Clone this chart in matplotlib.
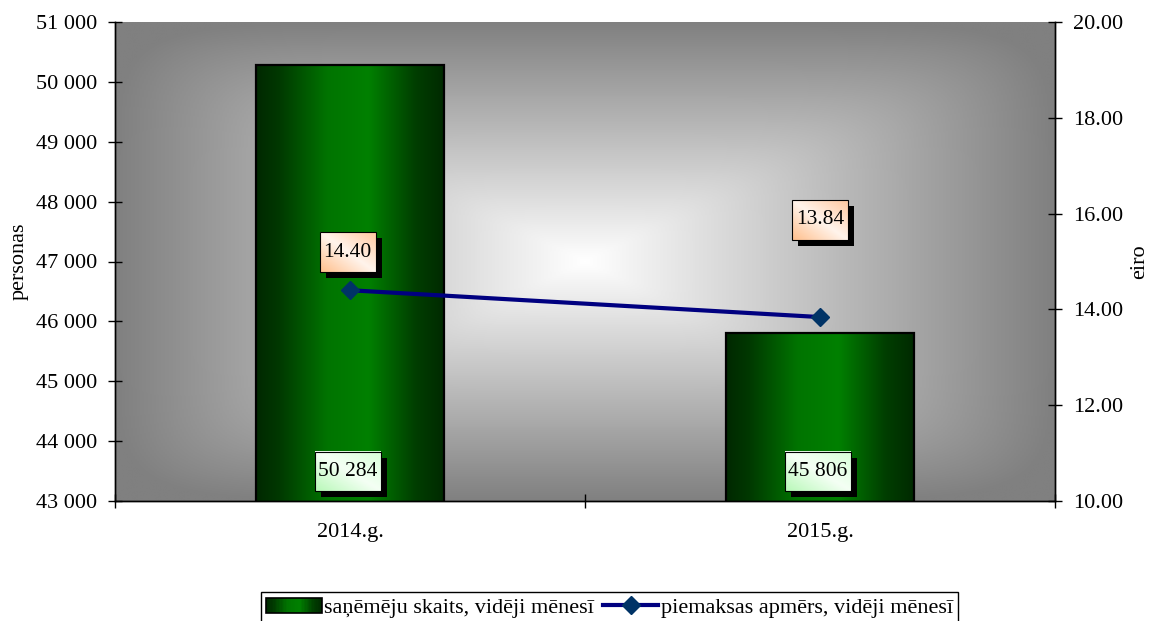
import matplotlib
matplotlib.use('Agg')
import matplotlib.pyplot as plt
import numpy as np
from matplotlib.colors import LinearSegmentedColormap
from matplotlib.patches import Rectangle
from matplotlib.lines import Line2D
from matplotlib.legend_handler import HandlerBase
from matplotlib.ticker import FuncFormatter

# ---- data ----
years = ['2014.g.', '2015.g.']
recipients = [50284, 45806]
payment = [14.40, 13.84]
left_ticks = [43000, 44000, 45000, 46000, 47000, 48000, 49000, 50000, 51000]
right_ticks = [10, 12, 14, 16, 18, 20]
left_label = 'personas'
right_label = 'eiro'
bar_legend = 'saņēmēju skaits, vidēji mēnesī'
line_legend = 'piemaksas apmērs, vidēji mēnesī'

# ---- style ----
plt.rcParams['font.family'] = ['Liberation Serif', 'DejaVu Serif']
plt.rcParams['font.size'] = 16

W, H, DPI = 1153, 621, 100
fig = plt.figure(figsize=(W / DPI, H / DPI), dpi=DPI)
ax = fig.add_axes([115 / W, 1 - 501 / H, 940 / W, 479 / H])
ax2 = ax.twinx()

x = np.arange(len(years))
xlim = (-0.5, len(years) - 0.5)
ax.set_xlim(*xlim)
ax.set_ylim(left_ticks[0], left_ticks[-1])
ax2.set_ylim(right_ticks[0], right_ticks[-1])

# background rectangular gradient (white centre -> grey edges)
n = 500
g = np.linspace(-1, 1, n)
GX, GY = np.meshgrid(g, g)
p = 8
v = (np.abs(GX) ** p + np.abs(GY) ** p) ** (1 / p)
v = np.clip(v, 0, 1)
bg_cmap = LinearSegmentedColormap.from_list('bg', ['#ffffff', '#808080'])
ax.imshow(v, cmap=bg_cmap, extent=[0, 1, 0, 1], transform=ax.transAxes,
          aspect='auto', zorder=0, interpolation='bilinear', vmin=0, vmax=1)
ax.patch.set_visible(False)

# bars with horizontal green gradient
bar_cmap = LinearSegmentedColormap.from_list(
    'bar', [(0, '#002800'), (0.12, '#003800'), (0.38, '#007400'),
            (0.6, '#008000'), (0.85, '#003e00'), (1, '#002a00')])
width = 0.4
grad = np.linspace(0, 1, 256).reshape(1, -1)
bars = ax.bar(x, recipients, width, facecolor='none', edgecolor='black',
              linewidth=1.6, zorder=3)
for xi, val in zip(x, recipients):
    ax.imshow(grad, cmap=bar_cmap, extent=[xi - width / 2, xi + width / 2, left_ticks[0], val],
              aspect='auto', zorder=2, interpolation='bilinear')

# line on secondary axis
ax2.plot(x, payment, color='#000080', linewidth=3, marker='D', markersize=9,
         markerfacecolor='#003366', markeredgecolor='#003366', zorder=3)

# axes formatting
ax.set_yticks(left_ticks)
ax.yaxis.set_major_formatter(FuncFormatter(lambda v, p: f'{int(v):,}'.replace(',', ' ')))
ax2.set_yticks(right_ticks)
ax2.yaxis.set_major_formatter(FuncFormatter(lambda v, p: f'{v:.2f}'))
ax.tick_params(axis='y', direction='inout', length=10, width=1, pad=8)
ax2.tick_params(axis='y', direction='inout', length=10, width=1, pad=8)

ax.set_xticks([-0.5, 0.5, 1.5])
ax.set_xticklabels([])
ax.set_xticks(x, minor=True)
ax.set_xticklabels(years, minor=True)
ax.tick_params(axis='x', which='major', direction='inout', length=10, width=1)
ax.tick_params(axis='x', which='minor', length=0, pad=16)

for a in (ax, ax2):
    a.spines['top'].set_visible(False)
    for s in ('left', 'right', 'bottom'):
        a.spines[s].set_color('black')
        a.spines[s].set_linewidth(1)

ax.set_ylabel(left_label)
ax.yaxis.set_label_coords(-0.092, 0.5)
ax2.set_ylabel(right_label)
ax2.yaxis.set_label_coords(1.08, 0.5)

ax.set_xlim(*xlim)
ax.set_ylim(left_ticks[0], left_ticks[-1])
ax2.set_ylim(right_ticks[0], right_ticks[-1])

# ---- data label boxes ----
peach_cmap = LinearSegmentedColormap.from_list('peach', ['#ffbf8c', '#fff4ec', '#ffc8a0'])
green_cmap = LinearSegmentedColormap.from_list('lg', ['#b8f8b8', '#f4fff4', '#d8ffd8'])
uu, vv = np.meshgrid(np.linspace(0, 1, 60), np.linspace(0, 1, 60))
diag = (uu + vv) / 2


def label_box(disp_center, size, text, cmap):
    inv = ax2.transData.inverted()
    cx, cy = disp_center
    w, h = size
    # shadow
    (sx0, sy0) = inv.transform((cx - w / 2 + 6, cy - h / 2 - 6))
    (sx1, sy1) = inv.transform((cx + w / 2 + 6, cy + h / 2 - 6))
    ax2.add_patch(Rectangle((sx0, sy0), sx1 - sx0, sy1 - sy0, facecolor='black',
                            edgecolor='none', zorder=5))
    (x0, y0) = inv.transform((cx - w / 2, cy - h / 2))
    (x1, y1) = inv.transform((cx + w / 2, cy + h / 2))
    ax2.imshow(diag, cmap=cmap, extent=[x0, x1, y0, y1], origin='lower',
               aspect='auto', zorder=6, interpolation='bilinear')
    ax2.add_patch(Rectangle((x0, y0), x1 - x0, y1 - y0, facecolor='none',
                            edgecolor='black', linewidth=0.8, zorder=7))
    ax2.text((x0 + x1) / 2, (y0 + y1) / 2, text, ha='center', va='center',
             fontsize=15.5, zorder=8)


pay_offsets = [(-2.5, 38), (0, 97.5)]
val_offsets = [(-2.5, 29.5), (-2, 29.5)]
for xi, pv, off in zip(x, payment, pay_offsets):
    dx, dy = ax2.transData.transform((xi, pv))
    label_box((dx + off[0], dy + off[1]), (56, 40), f'{pv:.2f}', peach_cmap)
for xi, r, off in zip(x, recipients, val_offsets):
    dx, dy = ax.transData.transform((xi, left_ticks[0]))
    label_box((dx + off[0], dy + off[1]), (66, 39), f'{r:,}'.replace(',', ' '), green_cmap)

ax2.set_xlim(*xlim)
ax2.set_ylim(right_ticks[0], right_ticks[-1])


# ---- legend ----
class GradientHandler(HandlerBase):
    def create_artists(self, legend, orig_handle, xdescent, ydescent, width, height,
                       fontsize, trans):
        arts = []
        m = 40
        for i in range(m):
            arts.append(Rectangle((-xdescent + i * width / m, -ydescent), width / m * 1.1, height,
                                  facecolor=bar_cmap((i + 0.5) / m), edgecolor='none',
                                  transform=trans))
        arts.append(Rectangle((-xdescent, -ydescent), width, height, facecolor='none',
                              edgecolor='black', linewidth=1.2, transform=trans))
        return arts


bar_proxy = Rectangle((0, 0), 1, 1)
line_proxy = Line2D([], [], color='#000080', linewidth=3, marker='D', markersize=9,
                    markerfacecolor='#003366', markeredgecolor='#003366')
leg = fig.legend([bar_proxy, line_proxy], [bar_legend, line_legend],
                 handler_map={bar_proxy: GradientHandler()},
                 loc='upper center', bbox_to_anchor=(609.5 / W, 1 - 592 / H), ncol=2,
                 frameon=True, fancybox=False, edgecolor='black', framealpha=1,
                 borderpad=0.25, handlelength=2.5, handletextpad=0.1,
                 columnspacing=0.4, borderaxespad=0)
leg.get_frame().set_linewidth(1)

fig.savefig('out.png', dpi=DPI)
